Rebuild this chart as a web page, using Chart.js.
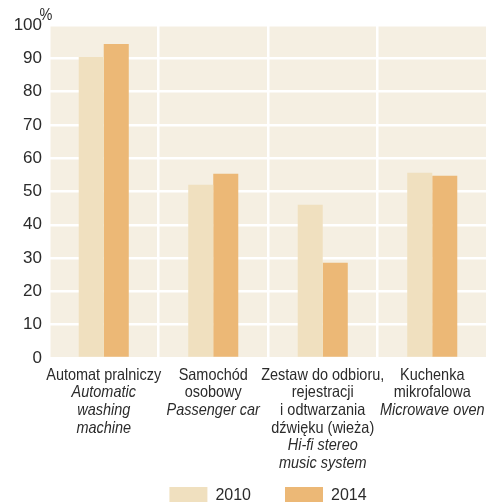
<!DOCTYPE html>
<html>
<head>
<meta charset="utf-8">
<script src="https://cdn.jsdelivr.net/npm/chart.js@4.4.1/dist/chart.umd.min.js"></script>
<style>
  html, body { margin: 0; padding: 0; background: #ffffff; overflow: hidden; }
  #wrap { position: relative; width: 495px; height: 515px; }
</style>
</head>
<body>
<div id="wrap"><canvas id="c"></canvas></div>
<script>
// ---- data ----
const categoriesPl = [
  ["Automat pralniczy"],
  ["Samochód", "osobowy"],
  ["Zestaw do odbioru,", "rejestracji", "i odtwarzania", "dźwięku (wieża)"],
  ["Kuchenka", "mikrofalowa"]
];
const categoriesEn = [
  ["Automatic", "washing", "machine"],
  ["Passenger car"],
  ["Hi-fi stereo", "music system"],
  ["Microwave oven"]
];
const seriesNames = ["2010", "2014"];
const values2010 = [90.4, 52.0, 46.0, 55.6];
const values2014 = [94.3, 55.3, 28.6, 54.7];
const yTicks = [0, 10, 20, 30, 40, 50, 60, 70, 80, 90, 100];
const unitLabel = "%";

const TEXT = "#2b2b2b";
const plotBg = {
  id: "plotBg",
  beforeDraw(chart) {
    const a = chart.chartArea, ctx = chart.ctx;
    ctx.save();
    ctx.fillStyle = "#f5efe2";
    ctx.fillRect(a.left, a.top, a.right - a.left, a.bottom - a.top);
    ctx.restore();
  }
};
const extraText = {
  id: "extraText",
  afterDraw(chart) {
    const ctx = chart.ctx, xs = chart.scales.x, a = chart.chartArea;
    ctx.save();
    ctx.fillStyle = TEXT;
    ctx.textBaseline = "alphabetic";
    const sx = 0.877;
    const lh = 17.6;
    categoriesPl.forEach((pl, i) => {
      const cx = xs.getPixelForValue(i);
      const lines = pl.map(t => [t, false]).concat(categoriesEn[i].map(t => [t, true]));
      lines.forEach(([t, it], k) => {
        ctx.save();
        ctx.font = (it ? "italic " : "") + "16.5px 'Liberation Sans', Arial, sans-serif";
        ctx.textAlign = "center";
        ctx.translate(cx, a.bottom + 21.7 + k * lh);
        ctx.scale(sx, 1);
        ctx.fillText(t, 0, 0);
        ctx.restore();
      });
    });
    // unit label
    ctx.save();
    ctx.font = "16.5px 'Liberation Sans', Arial, sans-serif";
    ctx.textAlign = "left";
    ctx.translate(39.5, 20);
    ctx.scale(sx, 1);
    ctx.fillText(unitLabel, 0, 0);
    ctx.restore();
    ctx.restore();
  }
};

new Chart(document.getElementById("c"), {
  type: "bar",
  data: {
    labels: categoriesPl.map((p, i) => p.concat(categoriesEn[i])),
    datasets: [
      { label: seriesNames[0], data: values2010, backgroundColor: "#f0e0bf", borderWidth: 0 },
      { label: seriesNames[1], data: values2014, backgroundColor: "#ecb876", borderWidth: 0 }
    ]
  },
  options: {
    responsive: true,
    maintainAspectRatio: false,
    animation: false,
    layout: { padding: { top: 25, left: 0, right: 8, bottom: 0 } },
    datasets: { bar: { categoryPercentage: 0.457, barPercentage: 1.0 } },
    plugins: {
      tooltip: { enabled: false },
      legend: {
        position: "bottom",
        fullSize: false,
        labels: {
          boxWidth: 38, boxHeight: 18, padding: 34, color: TEXT,
          font: { family: "'Liberation Sans', Arial", size: 16 }
        }
      }
    },
    scales: {
      x: {
        offset: true,
        border: { display: false },
        grid: { offset: true, color: "#ffffff", lineWidth: 2.5, drawTicks: false },
        ticks: { display: false },
        afterFit: s => { s.height = 95; }
      },
      y: {
        min: 0, max: 100,
        border: { display: false },
        grid: { color: "#ffffff", lineWidth: 2.5, drawTicks: false },
        afterBuildTicks: s => { s.ticks = yTicks.map(v => ({ value: v })); },
        ticks: {
          padding: 7, color: TEXT,
          font: { family: "'Liberation Sans', Arial", size: 17 }
        },
        afterFit: s => { s.width = 49; }
      }
    }
  },
  plugins: [plotBg, extraText]
});
</script>
</body>
</html>
